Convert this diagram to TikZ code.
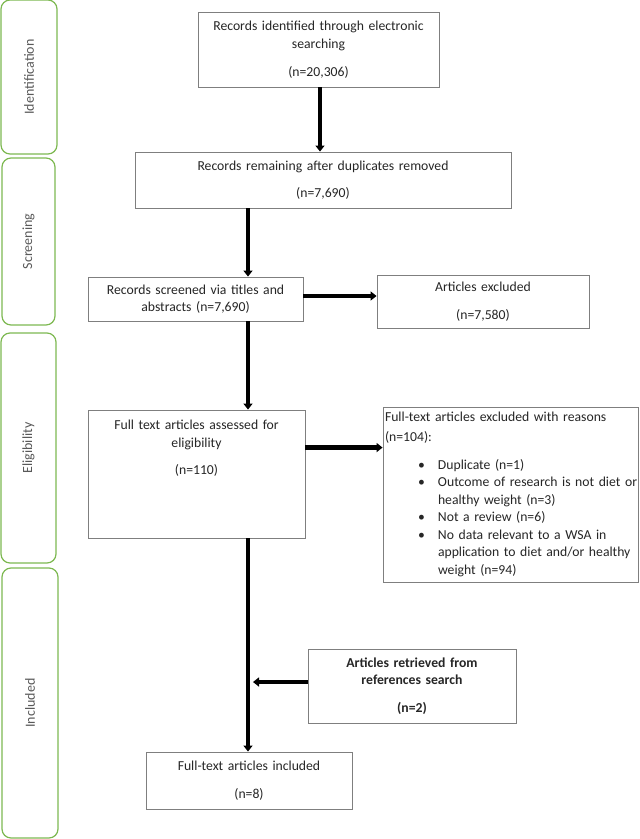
\documentclass[tikz,border=0pt]{standalone}
\usepackage{fontspec}
\setmainfont{Carlito}
\usepackage{tikz}
\usetikzlibrary{
    positioning,
    arrows.meta
}
\definecolor{stagegreen}{HTML}{7DB851}
\definecolor{boxgray}{HTML}{7F7F7F}
\definecolor{labelgray}{HTML}{595959}
\newcommand{\bitem}[1]{\mbox{\hspace*{33pt}\makebox[20pt][l]{\textbullet}#1}}
\newcommand{\bcont}[1]{\mbox{\hspace*{53pt}#1}}
\tikzset{
    >={Triangle[width=9pt,length=6pt]},
    stagebox/.style={
        draw=stagegreen,
        line width=1.2pt,
        rounded corners=9pt,
        rotate=90,
        text=labelgray,
        font=\fontsize{14}{17}\selectfont
    },
    stepbox/.style={
        draw=boxgray,
        line width=0.9pt,
        fill=white,
        inner sep=0pt,
        align=center,
        text=black!85,
        font=\fontsize{13.7}{17.5}\selectfont
    },
    flow/.style={
        ->,
        line width=4.6pt
    }
}
\begin{document}
\begin{tikzpicture}[
    x=1pt,
    y=-1pt
]
    \useasboundingbox (0,0) rectangle (640,839);

    % Etapas
    \node[stagebox, minimum width=154, minimum height=56]
        (identification) at (29,77)    {Identification};
    \node[stagebox, minimum width=167, minimum height=53]
        (screening)      at (28.5,241.5) {Screening};
    \node[stagebox, minimum width=230, minimum height=55]
        (eligibility)    at (28.5,448)  {Eligibility};
    \node[stagebox, minimum width=270, minimum height=56]
        (included)       at (30,703)    {Included};

    % Cajas
    \node[stepbox, minimum width=241, minimum height=75, text width=235]
        (identified) at (318.5,49.5)
        {Records identified through electronic\\searching\\[10.5pt](n=20,306)};
    \node[stepbox, minimum width=376, minimum height=56, text width=370]
        (remaining) at (323,180)
        {Records remaining after duplicates removed\\[10pt](n=7,690)};
    \node[stepbox, minimum width=215, minimum height=44, text width=209]
        (screened) at (195.5,299)
        {Records screened via titles and\\abstracts (n=7,690)};
    \node[stepbox, minimum width=212, minimum height=53, text width=206]
        (excluded) at (483,301.5)
        {Articles excluded\\[11pt](n=7,580)};
    \node[stepbox, minimum width=217, minimum height=128, text width=211]
        (assessed) at (196.5,474)
        {Full text articles assessed for\\eligibility\\[10pt](n=110)\\[36pt]~};
    \node[stepbox, minimum width=255, minimum height=175, text width=251,
          align=left, inner xsep=2pt]
        (reasons) at (510.5,494.5)
        {Full-text articles excluded with reasons\\[2pt]
         (n=104):\\[10.5pt]
         \bitem{Duplicate (n=1)}\\
         \bitem{Outcome of research is not diet or}\\
         \bcont{healthy weight (n=3)}\\
         \bitem{Not a review (n=6)}\\
         \bitem{No data relevant to a WSA in}\\
         \bcont{application to diet and/or healthy}\\
         \bcont{weight (n=94)}};
    \node[stepbox, minimum width=208, minimum height=74, text width=202,
          font=\fontsize{13.7}{17.5}\selectfont\bfseries]
        (retrieved) at (412,686)
        {Articles retrieved from\\references search\\[10.5pt](n=2)};
    \node[stepbox, minimum width=206, minimum height=57, text width=200]
        (fulltext) at (249,780.5)
        {Full-text articles included\\[10.5pt](n=8)};

    % Eje principal
    \coordinate (trunk) at (248,0);

    % Conectores
    \draw[flow] ([xshift=1.5pt]identified.south)
        -- ([xshift=1.5pt]identified.south |- remaining.north);
    \draw[flow] (remaining.south -| trunk) -- (screened.north -| trunk);
    \draw[flow] ([yshift=3pt]screened.east)
        -- ([yshift=3pt]screened.east -| excluded.west);
    \draw[flow] (screened.south -| trunk) -- (assessed.north -| trunk);
    \draw[flow] ([yshift=-38pt]assessed.north east)
        -- ([yshift=-38pt]assessed.north east -| reasons.west);
    \draw[flow] (assessed.south -| trunk) -- (fulltext.north -| trunk);
    \draw[flow, shorten >=5pt] ([yshift=4pt]retrieved.west)
        -- ([yshift=4pt]retrieved.west -| trunk);

\end{tikzpicture}
\end{document}
